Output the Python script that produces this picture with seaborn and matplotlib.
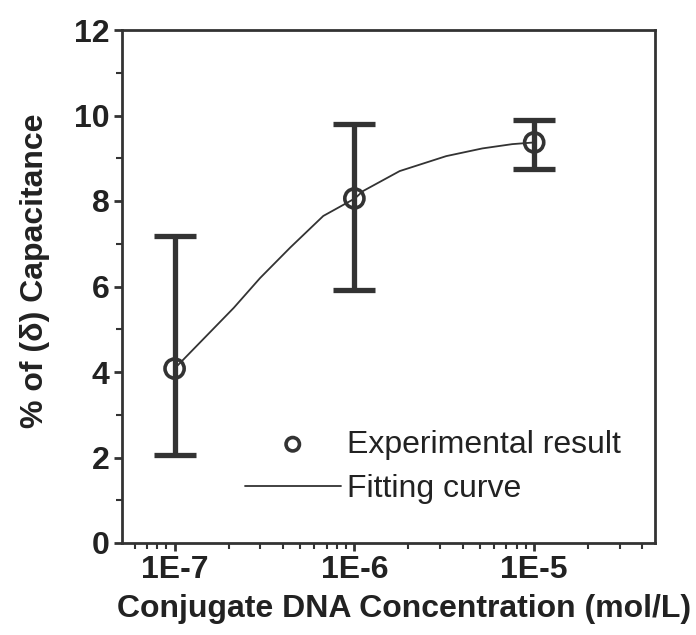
import numpy as np
import pandas as pd
import matplotlib
matplotlib.use("Agg")
import matplotlib.pyplot as plt
import matplotlib.ticker as mticker
import seaborn as sns

# Experimental results
conc = [1e-7, 1e-6, 1e-5]
cap_mean = [4.08, 8.06, 9.37]
cap_low = [2.05, 5.91, 8.76]
cap_high = [7.18, 9.80, 9.90]

# Fitting curve
fit_logx = [-7.0, -6.671, -6.524, -6.357, -6.173, -5.997, -5.953, -5.748, -5.489, -5.288, -5.122, -5.0]
fit_y = [4.08, 5.50, 6.20, 6.91, 7.65, 8.06, 8.23, 8.70, 9.05, 9.23, 9.33, 9.37]

xlabel = "Conjugate DNA Concentration (mol/L)"
ylabel = "% of (\u03b4) Capacitance"
tick_vals = [1e-7, 1e-6, 1e-5]
tick_labels = ["1E-7", "1E-6", "1E-5"]

sns.set_theme(style="ticks")
plt.rcParams['font.family'] = ['Liberation Sans', 'DejaVu Sans']

ink = "#333333"
txt = "#222222"
fig = plt.figure(figsize=(6.96, 6.35), dpi=100)
ax = fig.add_axes([122/696, 1-543/635, (655-122)/696, (543-30)/635])

df_fit = pd.DataFrame({"x": 10**np.array(fit_logx), "y": fit_y})
sns.lineplot(data=df_fit, x="x", y="y", ax=ax, color=ink, lw=1.3,
             label="Fitting curve", sort=False)

mean = np.array(cap_mean)
yerr = np.vstack([mean - np.array(cap_low), np.array(cap_high) - mean])
ax.errorbar(conc, mean, yerr=yerr, fmt="none", ecolor=ink, elinewidth=3.8,
            capsize=15, capthick=3.8, zorder=3)
df_pts = pd.DataFrame({"x": conc, "y": cap_mean})
sns.scatterplot(data=df_pts, x="x", y="y", ax=ax, marker="o", s=190,
                facecolor="none", edgecolor=ink, linewidth=2.6, zorder=4,
                label="Experimental result")

ax.set_xscale("log")
ax.set_xlim(5.1e-8, 4.7e-5)
ax.set_ylim(0, 12)
ax.set_xticks(tick_vals)
ax.set_xticklabels(tick_labels)
ax.xaxis.set_minor_locator(mticker.LogLocator(base=10, subs=np.arange(2, 10)))
ax.xaxis.set_minor_formatter(mticker.NullFormatter())
ax.set_yticks(np.arange(0, 13, 2))
ax.yaxis.set_minor_locator(mticker.MultipleLocator(1))

for s in ax.spines.values():
    s.set_color(ink)
    s.set_linewidth(2)
ax.tick_params(axis="both", which="major", direction="out", length=6, width=2,
               color=ink, labelsize=23, labelcolor=txt, pad=3)
ax.tick_params(axis="both", which="minor", direction="out", length=4, width=1.5, color=ink)
for lab in ax.get_xticklabels() + ax.get_yticklabels():
    lab.set_fontweight("bold")

ax.set_xlabel(xlabel, fontsize=23, fontweight="bold", color=txt, labelpad=6)
ax.xaxis.set_label_coords(0.53, -0.1, transform=ax.transAxes)
ax.xaxis.label.set_va("top")
ax.set_ylabel(ylabel, fontsize=23, fontweight="bold", color=txt)
ax.yaxis.set_label_coords(-0.135, 0.53, transform=ax.transAxes)

handles, labels = ax.get_legend_handles_labels()
order = [labels.index("Experimental result"), labels.index("Fitting curve")]
leg = ax.legend([handles[i] for i in order], [labels[i] for i in order],
                loc="lower right", bbox_to_anchor=(0.99, 0.02), frameon=False,
                fontsize=23, handlelength=3.0, handletextpad=0.2, labelspacing=0.45,
                markerscale=0.7)
for t in leg.get_texts():
    t.set_color(txt)

fig.savefig("out.png", dpi=100)
